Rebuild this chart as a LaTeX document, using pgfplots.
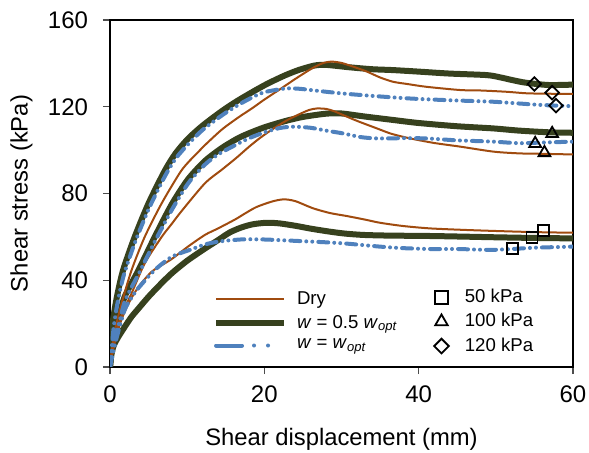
\documentclass[border=0pt]{standalone}
\usepackage{fontspec}
\setmainfont{Liberation Sans}
\usepackage{pgfplots}
\pgfplotsset{compat=1.18}
\definecolor{cdry}{RGB}{160,75,15}
\definecolor{cgrn}{RGB}{55,65,30}
\definecolor{cblu}{RGB}{79,129,189}
\begin{document}
\begin{tikzpicture}
\path[use as bounding box] (-55bp,-43bp) rectangle (239.5bp,183.5bp);
\begin{axis}[
  at={(0,0)}, anchor=south west,
  scale only axis, width=231.5bp, height=173.5bp,
  xmin=0, xmax=60, ymin=0, ymax=160,
  xtick={0,20,40,60}, ytick={0,40,80,120,160},
  tick align=outside, tick pos=left, major tick length=3.5bp,
  axis line style={line width=1bp},
  tick style={line width=0.6bp, black!70},
  /pgf/number format/assume math mode=true,
  every tick label/.append style={font=\fontsize{12bp}{14bp}\selectfont},
  yticklabel style={xshift=-4bp},
  xticklabel style={yshift=-2.5bp},
  label style={font=\fontsize{11.9bp}{14bp}\selectfont},
  xlabel={Shear displacement (mm)}, ylabel={Shear stress (kPa)},
  xlabel style={at={(axis description cs:0.5,-0.225)}, anchor=base},
  ylabel style={at={(axis description cs:-0.178,0.5)}, anchor=base},
  legend cell align=left,
  legend style={at={(axis cs:13.3,20.9)}, anchor=west, draw=none, fill=none,
    inner xsep=0pt, inner ysep=0pt, font=\fontsize{9.3bp}{11bp}\selectfont},
  legend image code/.code={\draw[#1] (0bp,0bp) -- (34bp,0bp); \path (37bp,0bp);},
  every axis plot/.append style={smooth, tension=0.45},
]
% w = 0.5 wopt
\addplot[cgrn, line width=3bp, forget plot] coordinates {
(0,0) (0.15,10) (0.4,21.7) (0.9,32.4) (1.7,44.7) (3.2,60) (5,75.5) (7.1,90.5) (8.5,98.5) (10.1,105.2) (12,111.3) (14.5,118) (16.5,122.7) (18.8,127.5) (20.5,130.8) (22.7,134.5) (24.5,137) (26.5,139) (28,139.3) (31,138.2) (34,137.3) (36.7,136.9) (40,136.2) (44,135.3) (48.8,134.6) (50.5,133.6) (52,132.4) (53.5,131.3) (55,130.6) (57,130) (60,130.2)};
\addplot[cgrn, line width=3bp, forget plot] coordinates {
(0,0) (0.15,7) (0.5,15) (1.1,21.7) (1.9,32.4) (3.7,44.7) (5.8,60) (8,75) (10.1,86.5) (12.3,95) (14.5,101) (16.6,105.5) (18.1,107.9) (20,110.5) (22.6,113.3) (25,115.3) (28,116.8) (30,116.9) (33,115.5) (36.7,113.9) (40,112.5) (45,111) (49.7,110) (53,109) (57,108.2) (60,108)};
\addplot[cgrn, line width=3bp, forget plot] coordinates {
(0,0) (0.2,6) (0.5,10) (1.1,14) (2,19) (2.8,23.2) (3.7,27) (5,32.4) (6.5,38) (8,43.2) (10,49) (12.3,54.6) (14,58.5) (15.5,62) (17,64.3) (18.5,65.8) (20.3,66.5) (22,66.2) (24.2,65) (26,63.8) (28.5,62.4) (30.5,61.5) (32.8,60.9) (36,60.6) (41.5,60.4) (46,60.1) (50.1,59.8) (55,59.5) (60,59.3)};
% dry
\addplot[cdry, line width=1bp, forget plot] coordinates {
(0,0) (0.3,10) (0.7,18) (1.5,29.3) (2.8,44.7) (4.5,60) (6.7,75.5) (9.1,89.8) (10.3,95) (11.4,99) (12.3,102.3) (14.5,109.5) (16.6,115) (18.5,119.5) (20,123.3) (22,128) (24,132.8) (26,137.3) (27.5,140) (28.7,140.8) (30,140.2) (31.5,138.5) (33.3,136.2) (35,133.5) (36.7,131.5) (38.5,130.5) (41,129.2) (45.4,127.7) (48,127.5) (51.4,126.9) (54,126.2) (57,126) (60,125.9)};
\addplot[cdry, line width=1bp, forget plot] coordinates {
(0,0) (0.3,8) (0.8,16) (1.6,25) (2.8,34) (4.5,47.8) (6.7,60) (8,66) (9.3,72) (12.3,84.7) (14.5,91) (16.4,96.5) (18,101.5) (19.4,105.5) (21,109.5) (22.8,113.5) (24.5,116.5) (25.8,118.5) (26.8,119.2) (28,119) (29,118) (30.2,116.2) (32,113.5) (34.6,110) (36.5,107.5) (38.9,105.4) (42,103.3) (45.4,101.6) (49.7,99.3) (53,98.5) (56,98.3) (60,98)};
\addplot[cdry, line width=1bp, forget plot] coordinates {
(0,0) (0.3,6) (0.8,14) (1.5,22) (2.5,30) (3.7,37) (5,42.5) (5.8,45) (8,49.8) (10.1,55.5) (12.3,60.9) (14,63.9) (16.2,68) (17.5,70.8) (19,73.8) (21,76.3) (22.5,77.3) (24,76.5) (26.3,73.2) (28.5,71) (30.7,69.6) (33,68) (35,66.5) (38,65) (41.5,63.9) (46,63.2) (50.1,62.7) (55,62.2) (60,61.9)};
% w = wopt
\addplot[cblu, line width=2bp, line cap=round, dash pattern=on 5bp off 3bp on 0bp off 3bp on 0bp off 3bp, forget plot] coordinates {
(0,0) (0.2,8) (0.5,19) (1,30) (1.8,42.5) (3.3,58) (5.1,73.5) (7.2,88.5) (8.6,96.5) (10.2,103) (12,109.3) (14.5,116) (16.6,120.8) (18.8,125) (20.1,126.8) (22.7,128.4) (24.5,128.3) (27,127.3) (30.2,126.1) (34,125) (38.9,123.8) (44,123) (49.7,122.3) (53,121.5) (56,120.8) (59.6,120.3)};
\addplot[cblu, line width=2bp, line cap=round, dash pattern=on 5bp off 3bp on 0bp off 3bp on 0bp off 3bp, forget plot] coordinates {
(0,0) (0.2,6) (0.6,14) (1.2,20.5) (2,31) (3.8,43.5) (5.9,58.5) (8.1,73) (10.2,85) (12.3,93.3) (14,98) (16.6,103) (18.1,105.6) (20,108.2) (22,110.2) (23.8,110.8) (26,110.3) (28,109) (30.2,107.7) (32.5,106) (34.6,105.4) (38,105.5) (41,105.4) (45,104.5) (49.7,103.9) (53,103.2) (56,103.5) (60,103.9)};
\addplot[cblu, line width=2bp, line cap=round, dash pattern=on 5bp off 3bp on 0bp off 3bp on 0bp off 3bp, forget plot] coordinates {
(0,0) (0.3,5) (0.9,14) (1.9,26.3) (2.8,32) (3.7,36.5) (5.8,44.7) (8,50.8) (10.5,54.2) (12.3,56.5) (14,57.8) (15.5,58.4) (17.5,58.9) (19.9,58.8) (22,58.5) (25,58) (28.5,57.4) (31,56.8) (35,55.5) (38,54.8) (41.5,54.4) (45,54.4) (49.2,54) (52,54.4) (55,55) (58,55.3) (60,55.5)};
% legend
\addlegendimage{cdry, line width=1bp}
\addlegendentry{Dry}
\addlegendimage{cgrn, line width=3bp}
\addlegendentry{\textit{w} = 0.5 \textit{w}\textsubscript{\textit{opt}}}
\addlegendimage{cblu, line width=2bp, line cap=round, dash pattern=on 13bp off 6bp on 0bp off 7bp on 0bp off 30bp}
\addlegendentry{\textit{w} = \textit{w}\textsubscript{\textit{opt}}}
\end{axis}
\begin{axis}[
  at={(0,0)}, anchor=south west,
  scale only axis, width=231.5bp, height=173.5bp,
  xmin=0, xmax=60, ymin=0, ymax=160, hide axis,
  legend cell align=left,
  legend style={at={(axis cs:41.3,20.9)}, anchor=west, draw=none, fill=none,
    inner xsep=0pt, inner ysep=0pt, font=\fontsize{9.3bp}{11bp}\selectfont},
  legend image code/.code={\draw[#1] plot coordinates {(0bp,0bp)}; \path (-6bp,0bp) (9.5bp,0bp);},
]
\addplot[only marks, black, mark=square, mark size=2.75bp, mark options={line width=0.9bp}, forget plot] coordinates {(52.2,54.7) (54.7,59.8) (56.2,62.9)};
\addplot[only marks, black, mark=triangle, mark size=3.4bp, mark options={line width=0.9bp}, forget plot] coordinates {(55.1,103) (56.3,98.8) (57.3,107.6)};
\addplot[only marks, black, mark=square, mark size=2.4bp, mark options={rotate=45, line width=0.9bp}, forget plot] coordinates {(55,130.5) (57.3,126.5) (57.8,120.5)};
\addlegendimage{only marks, black, mark=square, mark size=3.2bp, mark options={line width=0.9bp}}
\addlegendentry{50 kPa}
\addlegendimage{only marks, black, mark=triangle, mark size=3.6bp, mark options={line width=0.9bp}}
\addlegendentry{100 kPa}
\addlegendimage{only marks, black, mark=square, mark size=2.6bp, mark options={rotate=45, line width=0.9bp}}
\addlegendentry{120 kPa}
\end{axis}
\end{tikzpicture}
\end{document}
